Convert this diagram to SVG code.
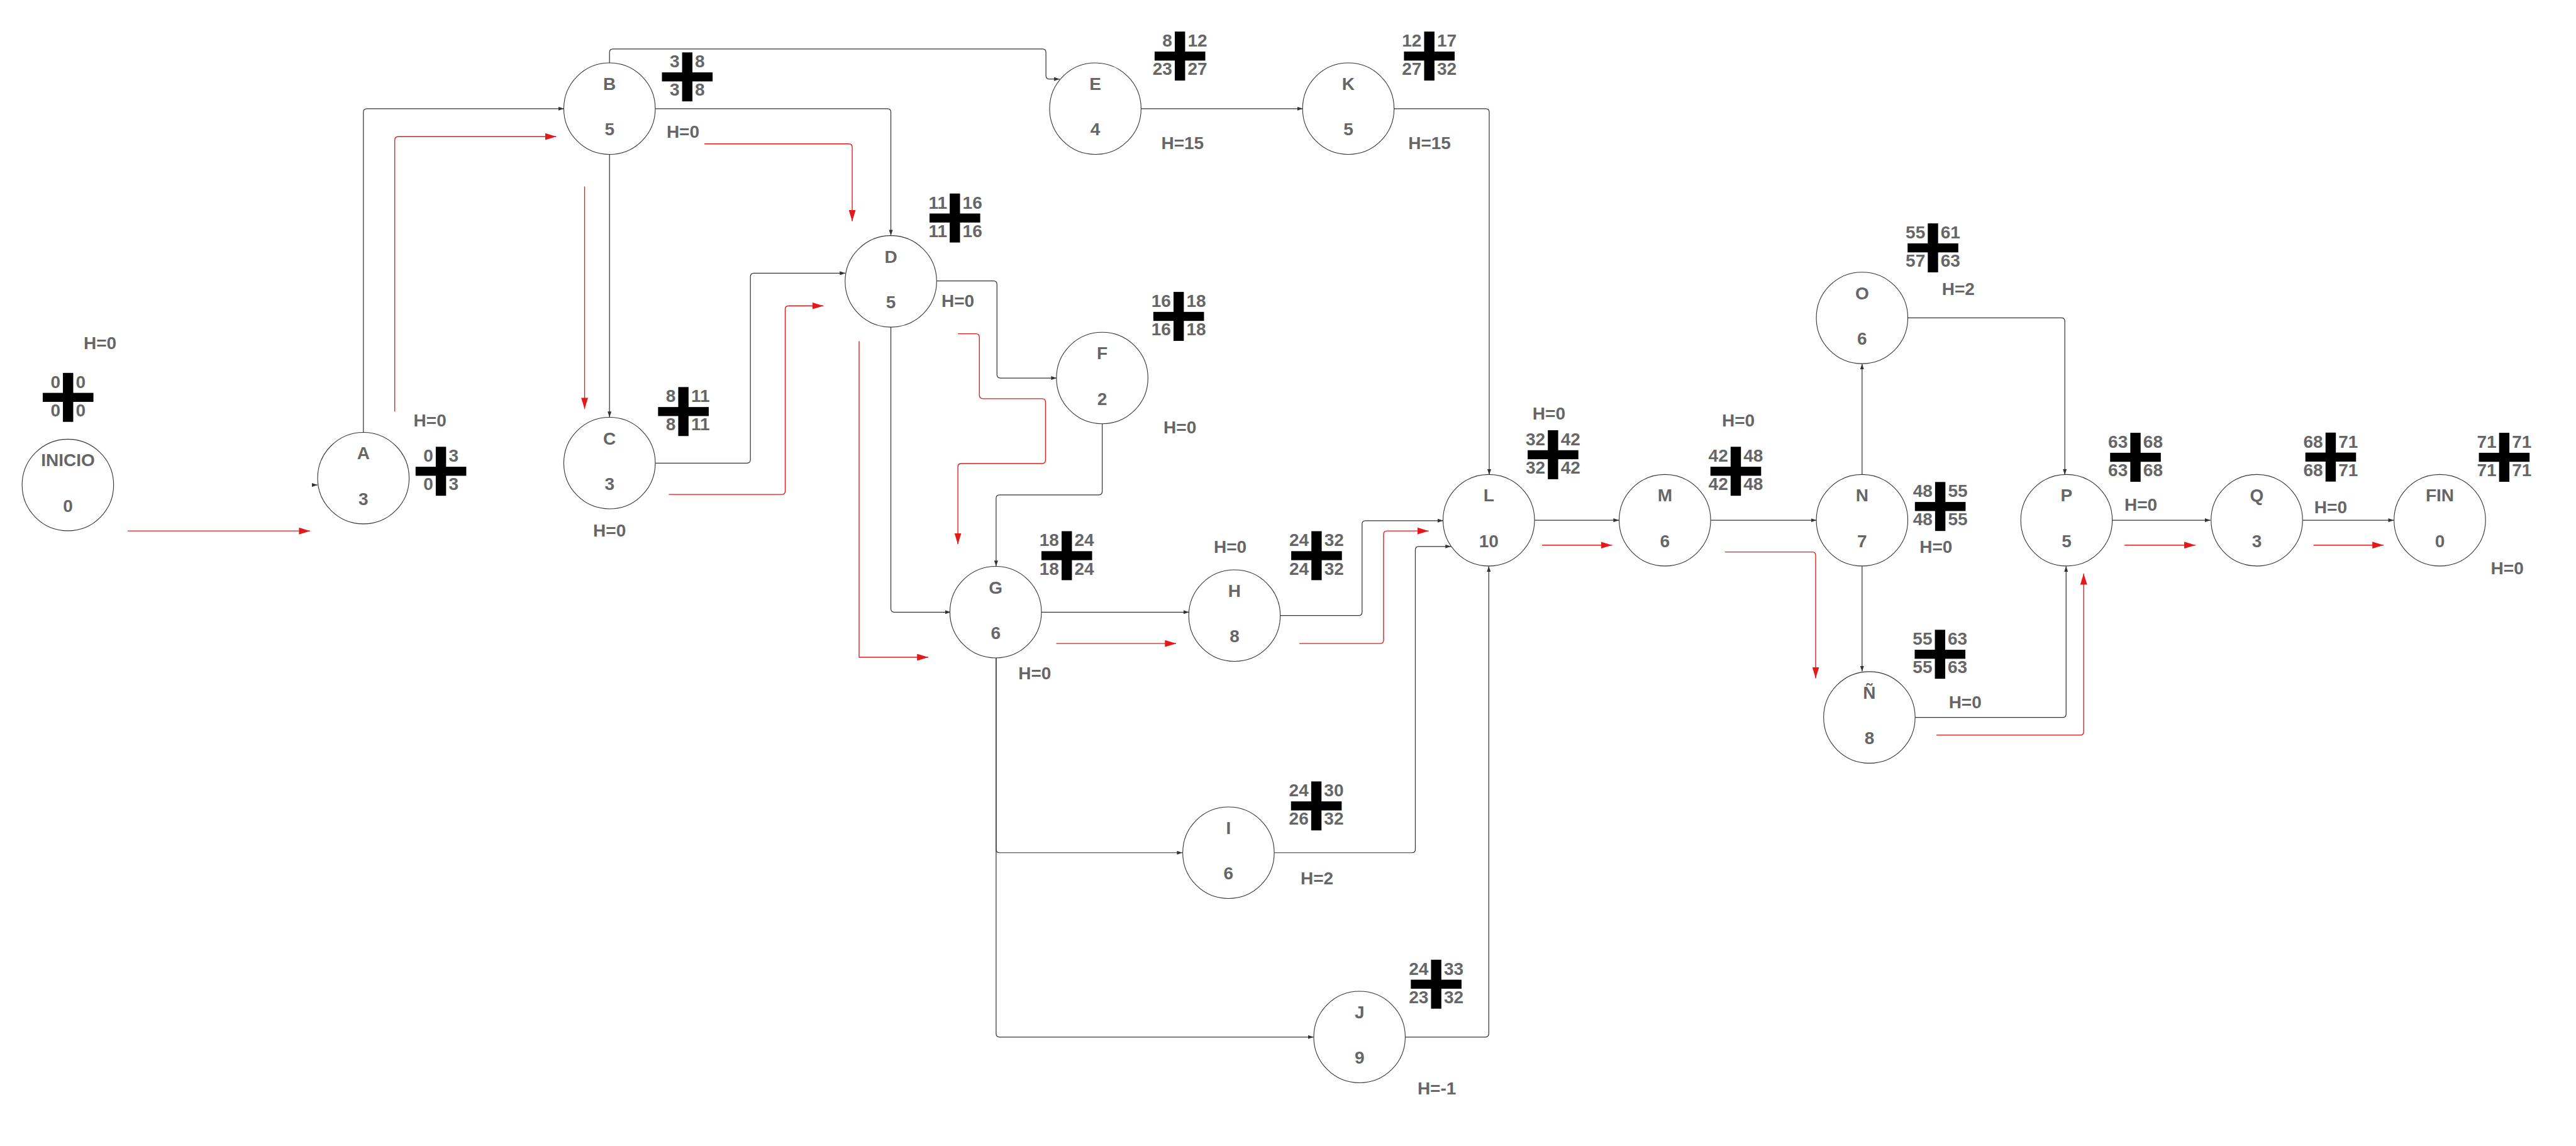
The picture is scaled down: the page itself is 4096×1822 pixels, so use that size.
<svg xmlns="http://www.w3.org/2000/svg" width="4096" height="1822" viewBox="0 0 4096 1822">
<defs>
<marker id="ab" markerUnits="userSpaceOnUse" viewBox="0 0 13 9" refX="13" refY="4.5" markerWidth="13" markerHeight="9" orient="auto"><path d="M0,0L13,4.5L0,9z" fill="#333"/></marker>
<marker id="ar" markerUnits="userSpaceOnUse" viewBox="0 0 26 16" refX="26" refY="8" markerWidth="26" markerHeight="16" orient="auto"><path d="M0,0L26,8L0,16z" fill="#e31a1a"/></marker>
<g id="cr"><rect x="-12" y="-57" width="24" height="114"/><rect x="-59" y="-10.5" width="118" height="21"/></g>
</defs>
<style>
.n ellipse{fill:#fff;stroke:#333;stroke-width:1.6}
text{font-family:"Liberation Sans",Arial,sans-serif;font-weight:bold;font-size:41px;fill:#666}
.c{text-anchor:middle}
.l{text-anchor:end}
.r{text-anchor:start}
.k path{fill:none;stroke:#333;stroke-width:1.8;stroke-linejoin:round;marker-end:url(#ab)}
.rd path{fill:none;stroke:#e31a1a;stroke-width:2;stroke-linejoin:round;marker-end:url(#ar)}
.x use{fill:#000}
</style>
<rect width="4096" height="1822" fill="#fff"/>
<g transform="scale(0.683)">
<g id="connectors">
<g class="k">
<path d="M726,1129H739"/>
<path d="M846,1007V261Q846,253 854,253H1313"/>
<path d="M1419,147V122Q1419,114 1427,114H2427Q2435,114 2435,122V176Q2435,184 2443,184H2467"/>
<path d="M1525,253H2066Q2074,253 2074,261V548"/>
<path d="M1419,359V971"/>
<path d="M1526,1078H1739Q1747,1078 1747,1070V644Q1747,636 1755,636H1968"/>
<path d="M2181,654H2313Q2321,654 2321,662V872Q2321,880 2329,880H2460"/>
<path d="M2074,761V1417Q2074,1425 2082,1425H2213"/>
<path d="M2566,986V1144Q2566,1152 2558,1152H2327Q2319,1152 2319,1160V1318"/>
<path d="M2655,253H3033"/>
<path d="M3245,253H3459Q3467,253 3467,261V1105"/>
<path d="M2424,1425H2768"/>
<path d="M2980,1433H3163Q3171,1433 3171,1425V1220Q3171,1212 3179,1212H3360"/>
<path d="M2967,1985H3287Q3295,1985 3295,1977V1280Q3295,1272 3303,1272H3378"/>
<path d="M2319,1531V1977Q2319,1985 2327,1985H2753"/>
<path d="M2319,1531V2406Q2319,2414 2327,2414H3058"/>
<path d="M3272,2414H3458Q3466,2414 3466,2406V1318"/>
<path d="M3573,1211H3769"/>
<path d="M3983,1211H4229"/>
<path d="M4335,1105V847"/>
<path d="M4441,740H4799Q4807,740 4807,748V1105"/>
<path d="M4335,1318V1563"/>
<path d="M4458,1670H4802Q4810,1670 4810,1662V1318"/>
<path d="M4917,1211H5146"/>
<path d="M5361,1211H5573"/>
</g>
<g class="rd">
<path d="M297,1236H722"/>
<path d="M919,958V326Q919,318 927,318H1295"/>
<path d="M1640,335H1976Q1984,335 1984,343V515"/>
<path d="M1361,434V952"/>
<path d="M1557,1151H1820Q1828,1151 1828,1143V720Q1828,712 1836,712H1917"/>
<path d="M2000,794V1530H2161"/>
<path d="M2230,777H2272Q2280,777 2280,785V920Q2280,928 2288,928H2426Q2434,928 2434,936V1071Q2434,1079 2426,1079H2238Q2230,1079 2230,1087V1267"/>
<path d="M2459,1498H2738"/>
<path d="M3025,1498H3213Q3221,1498 3221,1490V1244Q3221,1236 3229,1236H3326"/>
<path d="M3590,1269H3753"/>
<path d="M4016,1285H4219Q4227,1285 4227,1293V1579"/>
<path d="M4508,1711H4843Q4851,1711 4851,1703V1335"/>
<path d="M4946,1269H5111"/>
<path d="M5386,1269H5549"/>
</g>
</g>
<g id="nodes" class="n">
<g id="INICIO" transform="translate(158,1129)"><ellipse rx="106.5" ry="106.5"/><text class="c" y="-43.5">INICIO</text><text class="c" y="62.5">0</text></g>
<g id="A" transform="translate(846,1113)"><ellipse rx="106.5" ry="106.5"/><text class="c" y="-43.5">A</text><text class="c" y="62.5">3</text></g>
<g id="B" transform="translate(1419,253)"><ellipse rx="106.5" ry="106.5"/><text class="c" y="-43.5">B</text><text class="c" y="62.5">5</text></g>
<g id="C" transform="translate(1419,1078)"><ellipse rx="106.5" ry="106.5"/><text class="c" y="-43.5">C</text><text class="c" y="62.5">3</text></g>
<g id="D" transform="translate(2074,655)"><ellipse rx="106.5" ry="106.5"/><text class="c" y="-43.5">D</text><text class="c" y="62.5">5</text></g>
<g id="E" transform="translate(2550,253)"><ellipse rx="106.5" ry="106.5"/><text class="c" y="-43.5">E</text><text class="c" y="62.5">4</text></g>
<g id="K" transform="translate(3139,253)"><ellipse rx="106.5" ry="106.5"/><text class="c" y="-43.5">K</text><text class="c" y="62.5">5</text></g>
<g id="F" transform="translate(2566,880)"><ellipse rx="106.5" ry="106.5"/><text class="c" y="-43.5">F</text><text class="c" y="62.5">2</text></g>
<g id="G" transform="translate(2318,1425)"><ellipse rx="106.5" ry="106.5"/><text class="c" y="-43.5">G</text><text class="c" y="62.5">6</text></g>
<g id="H" transform="translate(2874,1433)"><ellipse rx="106.5" ry="106.5"/><text class="c" y="-43.5">H</text><text class="c" y="62.5">8</text></g>
<g id="I" transform="translate(2860,1985)"><ellipse rx="106.5" ry="106.5"/><text class="c" y="-43.5">I</text><text class="c" y="62.5">6</text></g>
<g id="J" transform="translate(3165,2414)"><ellipse rx="106.5" ry="106.5"/><text class="c" y="-43.5">J</text><text class="c" y="62.5">9</text></g>
<g id="L" transform="translate(3466,1211)"><ellipse rx="106.5" ry="106.5"/><text class="c" y="-43.5">L</text><text class="c" y="62.5">10</text></g>
<g id="M" transform="translate(3876,1211)"><ellipse rx="106.5" ry="106.5"/><text class="c" y="-43.5">M</text><text class="c" y="62.5">6</text></g>
<g id="N" transform="translate(4335,1211)"><ellipse rx="106.5" ry="106.5"/><text class="c" y="-43.5">N</text><text class="c" y="62.5">7</text></g>
<g id="O" transform="translate(4335,740)"><ellipse rx="106.5" ry="106.5"/><text class="c" y="-43.5">O</text><text class="c" y="62.5">6</text></g>
<g id="NN" transform="translate(4352,1670)"><ellipse rx="106.5" ry="106.5"/><text class="c" y="-43.5">Ñ</text><text class="c" y="62.5">8</text></g>
<g id="P" transform="translate(4811,1211)"><ellipse rx="106.5" ry="106.5"/><text class="c" y="-43.5">P</text><text class="c" y="62.5">5</text></g>
<g id="Q" transform="translate(5254,1211)"><ellipse rx="106.5" ry="106.5"/><text class="c" y="-43.5">Q</text><text class="c" y="62.5">3</text></g>
<g id="FIN" transform="translate(5680,1211)"><ellipse rx="106.5" ry="106.5"/><text class="c" y="-43.5">FIN</text><text class="c" y="62.5">0</text></g>
</g>
<g id="crosses" class="x">
<g transform="translate(158.5,925)"><use href="#cr"/><text class="l" x="-18" y="-22">0</text><text class="r" x="18" y="-22">0</text><text class="l" x="-18" y="44">0</text><text class="r" x="18" y="44">0</text></g>
<g transform="translate(1026.5,1097)"><use href="#cr"/><text class="l" x="-18" y="-22">0</text><text class="r" x="18" y="-22">3</text><text class="l" x="-18" y="44">0</text><text class="r" x="18" y="44">3</text></g>
<g transform="translate(1600,179)"><use href="#cr"/><text class="l" x="-18" y="-22">3</text><text class="r" x="18" y="-22">8</text><text class="l" x="-18" y="44">3</text><text class="r" x="18" y="44">8</text></g>
<g transform="translate(1591,958)"><use href="#cr"/><text class="l" x="-18" y="-22">8</text><text class="r" x="18" y="-22">11</text><text class="l" x="-18" y="44">8</text><text class="r" x="18" y="44">11</text></g>
<g transform="translate(2223,507.5)"><use href="#cr"/><text class="l" x="-18" y="-22">11</text><text class="r" x="18" y="-22">16</text><text class="l" x="-18" y="44">11</text><text class="r" x="18" y="44">16</text></g>
<g transform="translate(2747,130.5)"><use href="#cr"/><text class="l" x="-18" y="-22">8</text><text class="r" x="18" y="-22">12</text><text class="l" x="-18" y="44">23</text><text class="r" x="18" y="44">27</text></g>
<g transform="translate(3327.5,130.5)"><use href="#cr"/><text class="l" x="-18" y="-22">12</text><text class="r" x="18" y="-22">17</text><text class="l" x="-18" y="44">27</text><text class="r" x="18" y="44">32</text></g>
<g transform="translate(2744,736.5)"><use href="#cr"/><text class="l" x="-18" y="-22">16</text><text class="r" x="18" y="-22">18</text><text class="l" x="-18" y="44">16</text><text class="r" x="18" y="44">18</text></g>
<g transform="translate(2483.5,1293.5)"><use href="#cr"/><text class="l" x="-18" y="-22">18</text><text class="r" x="18" y="-22">24</text><text class="l" x="-18" y="44">18</text><text class="r" x="18" y="44">24</text></g>
<g transform="translate(3065,1293.5)"><use href="#cr"/><text class="l" x="-18" y="-22">24</text><text class="r" x="18" y="-22">32</text><text class="l" x="-18" y="44">24</text><text class="r" x="18" y="44">32</text></g>
<g transform="translate(3064.5,1876)"><use href="#cr"/><text class="l" x="-18" y="-22">24</text><text class="r" x="18" y="-22">30</text><text class="l" x="-18" y="44">26</text><text class="r" x="18" y="44">32</text></g>
<g transform="translate(3343.5,2291)"><use href="#cr"/><text class="l" x="-18" y="-22">24</text><text class="r" x="18" y="-22">33</text><text class="l" x="-18" y="44">23</text><text class="r" x="18" y="44">32</text></g>
<g transform="translate(3615.5,1058.5)"><use href="#cr"/><text class="l" x="-18" y="-22">32</text><text class="r" x="18" y="-22">42</text><text class="l" x="-18" y="44">32</text><text class="r" x="18" y="44">42</text></g>
<g transform="translate(4041,1097)"><use href="#cr"/><text class="l" x="-18" y="-22">42</text><text class="r" x="18" y="-22">48</text><text class="l" x="-18" y="44">42</text><text class="r" x="18" y="44">48</text></g>
<g transform="translate(4517,1179)"><use href="#cr"/><text class="l" x="-18" y="-22">48</text><text class="r" x="18" y="-22">55</text><text class="l" x="-18" y="44">48</text><text class="r" x="18" y="44">55</text></g>
<g transform="translate(4500,577)"><use href="#cr"/><text class="l" x="-18" y="-22">55</text><text class="r" x="18" y="-22">61</text><text class="l" x="-18" y="44">57</text><text class="r" x="18" y="44">63</text></g>
<g transform="translate(4516.5,1523)"><use href="#cr"/><text class="l" x="-18" y="-22">55</text><text class="r" x="18" y="-22">63</text><text class="l" x="-18" y="44">55</text><text class="r" x="18" y="44">63</text></g>
<g transform="translate(4971.5,1064.5)"><use href="#cr"/><text class="l" x="-18" y="-22">63</text><text class="r" x="18" y="-22">68</text><text class="l" x="-18" y="44">63</text><text class="r" x="18" y="44">68</text></g>
<g transform="translate(5426,1064)"><use href="#cr"/><text class="l" x="-18" y="-22">68</text><text class="r" x="18" y="-22">71</text><text class="l" x="-18" y="44">68</text><text class="r" x="18" y="44">71</text></g>
<g transform="translate(5830,1064.5)"><use href="#cr"/><text class="l" x="-18" y="-22">71</text><text class="r" x="18" y="-22">71</text><text class="l" x="-18" y="44">71</text><text class="r" x="18" y="44">71</text></g>
</g>
<g id="slack" class="c">
<text class="c" x="233" y="812.5">H=0</text>
<text class="c" x="1001" y="992.5">H=0</text>
<text class="c" x="1590" y="320.5">H=0</text>
<text class="c" x="1419" y="1249.5">H=0</text>
<text class="c" x="2230" y="714.5">H=0</text>
<text class="c" x="2753" y="346.5">H=15</text>
<text class="c" x="3328" y="346.5">H=15</text>
<text class="c" x="2747" y="1009.5">H=0</text>
<text class="c" x="2409" y="1581.5">H=0</text>
<text class="c" x="2864" y="1287.5">H=0</text>
<text class="c" x="3066" y="2058">H=2</text>
<text class="c" x="3345" y="2548">H=-1</text>
<text class="c" x="3606" y="976.5">H=0</text>
<text class="c" x="4047" y="992.5">H=0</text>
<text class="c" x="4507" y="1287.5">H=0</text>
<text class="c" x="4559" y="686.5">H=2</text>
<text class="c" x="4575" y="1648.5">H=0</text>
<text class="c" x="4984" y="1189.5">H=0</text>
<text class="c" x="5426" y="1194.5">H=0</text>
<text class="c" x="5837" y="1336.5">H=0</text>
</g>
</g>
</svg>
